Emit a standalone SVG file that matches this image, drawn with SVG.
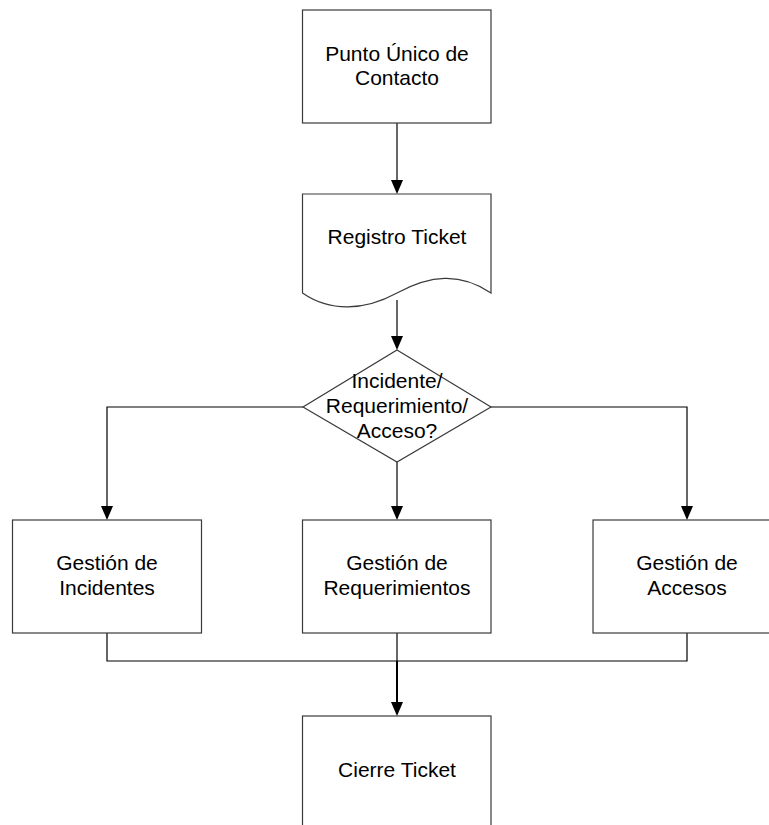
<svg xmlns="http://www.w3.org/2000/svg" width="769" height="825" viewBox="0 0 769 825">
  <style>
    .shape { fill: #ffffff; stroke: #3a3a3a; stroke-width: 1.2; }
    .label { font-family: "Liberation Sans", Arial, sans-serif; font-size: 21px; fill: #000000; text-anchor: middle; }
    .link { fill: none; stroke: #000000; stroke-width: 1.2; }
    .link-bold { fill: none; stroke: #000000; stroke-width: 2; }
    .head { fill: #000000; }
  </style>
  <rect width="769" height="825" fill="#ffffff"/>

  <g id="connectors">
    <path class="link" d="M397,123 V180"/>
    <path class="head" d="M391,180 L403,180 L397,194 Z"/>
    <path class="link" d="M397,300 V336"/>
    <path class="head" d="M391,336 L403,336 L397,350 Z"/>
    <path class="link" d="M303,407 H107 V506"/>
    <path class="head" d="M101,506 L113,506 L107,520 Z"/>
    <path class="link" d="M397,462 V506"/>
    <path class="head" d="M391,506 L403,506 L397,520 Z"/>
    <path class="link" d="M491,407 H687 V506"/>
    <path class="head" d="M681,506 L693,506 L687,520 Z"/>
    <path class="link" d="M107,633 V661 H687 V633"/>
    <path class="link" d="M397,633 V661"/>
    <path class="link-bold" d="M397,661 V702"/>
    <path class="head" d="M391,702 L403,702 L397,716 Z"/>
  </g>

  <g id="punto-unico">
    <rect class="shape" x="302.5" y="10" width="188.5" height="113"/>
    <text class="label" x="397" y="61">Punto Único de</text>
    <text class="label" x="397" y="85">Contacto</text>
  </g>

  <g id="registro-ticket">
    <path class="shape" d="M302.5,194 H491 V293 C460,272 430,275 397,293 C364,311 330,312 302.5,293 Z"/>
    <text class="label" x="397" y="244">Registro Ticket</text>
  </g>

  <g id="decision">
    <path class="shape" d="M397,350 L491,407 L397,462 L303,407 Z"/>
    <text class="label" x="397" y="388">Incidente/</text>
    <text class="label" x="397" y="413">Requerimiento/</text>
    <text class="label" x="397" y="438">Acceso?</text>
  </g>

  <g id="gestion-incidentes">
    <rect class="shape" x="12.5" y="520" width="189" height="113"/>
    <text class="label" x="107" y="570">Gestión de</text>
    <text class="label" x="107" y="595">Incidentes</text>
  </g>

  <g id="gestion-requerimientos">
    <rect class="shape" x="302.5" y="520" width="188.5" height="113"/>
    <text class="label" x="397" y="570">Gestión de</text>
    <text class="label" x="397" y="595">Requerimientos</text>
  </g>

  <g id="gestion-accesos">
    <rect class="shape" x="593" y="520" width="189" height="113"/>
    <text class="label" x="687" y="570">Gestión de</text>
    <text class="label" x="687" y="595">Accesos</text>
  </g>

  <g id="cierre-ticket">
    <rect class="shape" x="302.5" y="716" width="188.5" height="120"/>
    <text class="label" x="397" y="777">Cierre Ticket</text>
  </g>
</svg>
